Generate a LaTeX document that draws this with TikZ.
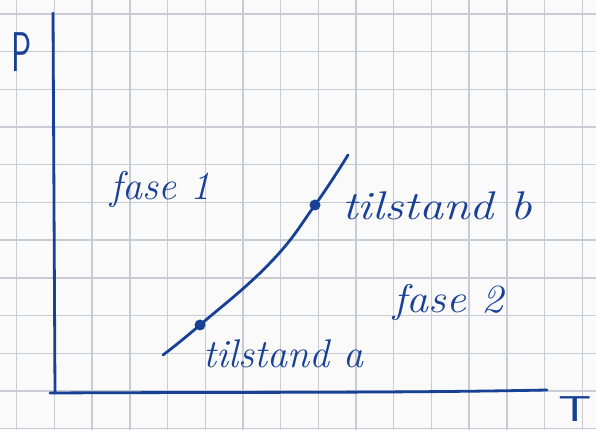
\documentclass[tikz,border=0pt]{standalone}
\usepackage{graphicx}
\definecolor{ink}{RGB}{24,64,150}
\definecolor{gridc}{RGB}{200,202,212}
\definecolor{paper}{RGB}{250,250,250}
\tikzset{
  inkline/.style={draw=ink, line width=2.8pt, line cap=round, line join=round},
  gridline/.style={draw=gridc, line width=1.4pt},
  statedot/.style={circle, fill=ink, inner sep=0pt, minimum size=11pt},
  hand/.style={text=ink, inner sep=0pt, font=\fontsize{40}{44}\selectfont\itshape},
}
\begin{document}
\begin{tikzpicture}[x=1pt,y=1pt]
\useasboundingbox (0,0) rectangle (596,430);
\clip (0,0) rectangle (596,430);
\fill[paper] (0,0) rectangle (596,430);
% grid paper
\foreach \k in {0,...,15} {
  \draw[gridline] ({16.7+37.7*\k},0) -- ({16.7+37.7*\k},430);
}
\foreach \k in {0,...,11} {
  \draw[gridline] (0,{430-14-37.7*\k}) -- (596,{430-14-37.7*\k});
}
% axes
\coordinate (ytop) at (53,417);
\coordinate (orig) at (55,37);
\coordinate (xstart) at (50,37);
\coordinate (xend) at (547,40);
\draw[inkline] (ytop) -- (orig);
\draw[inkline] (xstart) .. controls (250,38) and (400,37) .. (xend);
% axis labels
\node[text=ink, inner sep=0pt, font=\fontsize{56}{60}\selectfont\sffamily] (P) at (22,378) {\scalebox{0.6}[1]{P}};
\node[text=ink, inner sep=0pt, anchor=base, font=\fontsize{36}{38}\selectfont\sffamily] (T) at (575,8) {\scalebox{1.45}[1]{T}};
% phase curve
\coordinate (s) at (163,75);
\node[statedot] (a) at (200,105) {};
\coordinate (m) at (270,167);
\node[statedot] (b) at (315,225) {};
\coordinate (e) at (348,275);
\draw[inkline] plot[smooth, tension=0.75] coordinates {(s) (a.center) (m) (b.center) (e)};
% labels
\node[hand, anchor=base west] (f1) at (110,230) {fase 1};
\node[hand, anchor=base west] (tb) at (342,210) {\scalebox{1.2}[1]{tilstand b}};
\node[hand, anchor=base west] (f2) at (393,117) {\scalebox{1.1}[1]{fase 2}};
\node[hand, anchor=base west] (ta) at (203,62) {tilstand a};
\end{tikzpicture}
\end{document}
